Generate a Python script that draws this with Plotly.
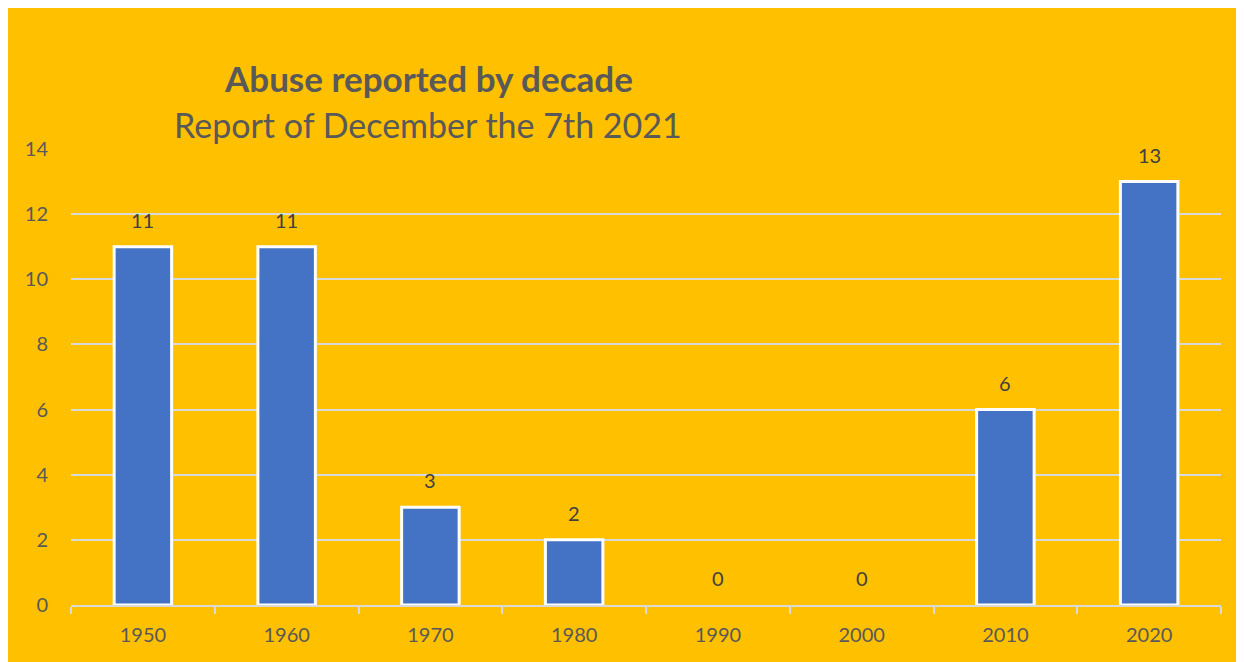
import plotly.graph_objects as go

decades = ["1950", "1960", "1970", "1980", "1990", "2000", "2010", "2020"]
reports = [11, 11, 3, 2, 0, 0, 6, 13]
y_ticks = [0, 2, 4, 6, 8, 10, 12, 14]

title_text = "Abuse reported by decade"
subtitle_text = "Report of December the 7th 2021"

FONT = "Lato"
GOLD = "#FFC000"
GRID = "#D9D9D9"
TXT = "#595959"

OFF = 8  # page body margin
W, H = 1244 - OFF, 662 - OFF
L, R, T, B = 71 - OFF, 23, 149 - OFF, 57
pw, ph = W - L - R, H - T - B

def px_x(x):
    return (x - OFF - L) / pw

def px_y(y):
    return (H - B - (y - OFF)) / ph

fig = go.Figure()
fig.add_trace(go.Bar(
    x=decades, y=reports,
    marker=dict(color="#4472C4",
                line=dict(color="white", width=[3 if v > 0 else 0 for v in reports])),
    hoverinfo="x+y",
))

for i, v in enumerate(reports):
    fig.add_annotation(x=i, y=v, text=str(v), showarrow=False, yshift=27,
                       yanchor="middle", font=dict(family=FONT, size=20, color="#404040"))

fig.add_annotation(xref="paper", yref="paper", x=px_x(428), y=px_y(78),
                   text="<b>" + title_text + "</b>", showarrow=False,
                   xanchor="center", yanchor="middle",
                   font=dict(family=FONT, size=35, color=TXT))
fig.add_annotation(xref="paper", yref="paper", x=px_x(428), y=px_y(124),
                   text=subtitle_text, showarrow=False,
                   xanchor="center", yanchor="middle",
                   font=dict(family=FONT, size=34, color=TXT))

fig.add_shape(type="rect", xref="paper", yref="paper", layer="below",
              x0=px_x(7), x1=px_x(1243), y0=px_y(680), y1=px_y(5),
              fillcolor=GOLD, line=dict(color=GRID, width=2))

fig.update_layout(
    width=W, height=H,
    margin=dict(l=L, r=R, t=T, b=B, autoexpand=False),
    paper_bgcolor=GOLD, plot_bgcolor="rgba(0,0,0,0)",
    bargap=0.6, showlegend=False,
    font=dict(family=FONT, size=20, color=TXT),
)
fig.update_xaxes(
    type="category", range=[-0.5, len(decades) - 0.5], showgrid=False,
    showline=True, linecolor=GRID, linewidth=2,
    ticks="outside", tickson="boundaries", ticklen=7, tickcolor=GRID, tickwidth=2,
    tickangle=0, ticklabelstandoff=11, automargin=False,
    tickfont=dict(family=FONT, size=20, color=TXT),
)
fig.update_yaxes(
    range=[0, 14], tickvals=y_ticks, showgrid=True, gridcolor=GRID, gridwidth=2,
    zeroline=False, showline=False, ticks="", ticklabelstandoff=22,
    tickfont=dict(family=FONT, size=20, color=TXT),
)

fig.write_html("out.html")
